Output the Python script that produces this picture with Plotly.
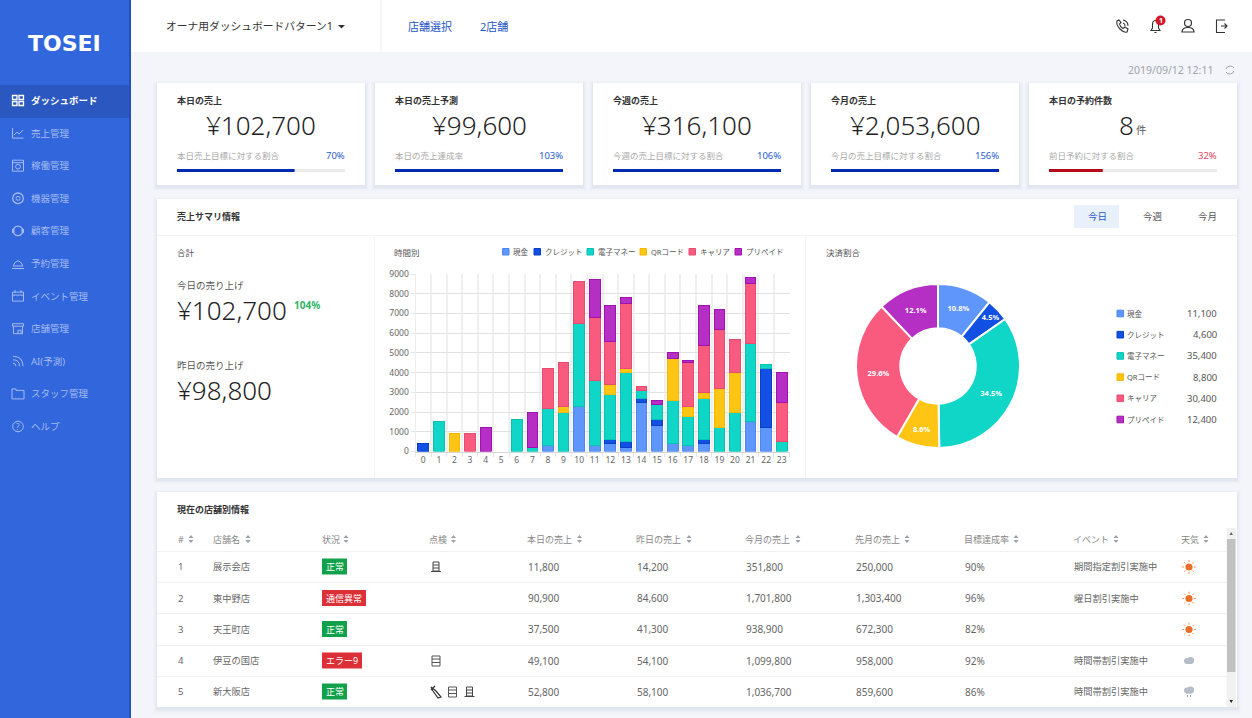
import plotly.graph_objects as go

W, H = 1252, 718
FONT = "Noto Sans, Noto Sans CJK JP"

# chart data
hours = [str(h) for h in range(24)]
pay_names = ['現金', 'クレジット', '電子マネー', 'QRコード', 'キャリア', 'プリペイド']
cash = [0, 0, 0, 0, 0, 0, 0, 0, 300, 0, 2300, 300, 400, 200, 2500, 1300, 400, 300, 400, 0, 0, 1500, 1200, 0]
credit = [400, 0, 0, 0, 0, 0, 0, 0, 0, 0, 0, 0, 200, 300, 200, 300, 0, 0, 200, 0, 0, 0, 3000, 0]
emoney = [0, 1500, 0, 0, 0, 0, 1600, 200, 1900, 2000, 4200, 3300, 2300, 3500, 400, 800, 2200, 1500, 2100, 1200, 2000, 4000, 200, 500]
qrcode = [0, 0, 900, 0, 0, 0, 0, 0, 0, 300, 0, 0, 500, 200, 0, 0, 2100, 500, 300, 2000, 2000, 0, 0, 0]
carrier = [0, 0, 0, 900, 0, 0, 0, 0, 2000, 2200, 2100, 3200, 2200, 3300, 200, 0, 0, 2200, 2400, 3000, 1700, 3000, 0, 2000]
prepaid = [0, 0, 0, 0, 1200, 0, 0, 1800, 0, 0, 0, 1900, 1800, 300, 0, 200, 300, 100, 2000, 1000, 0, 300, 0, 1500]
pay_totals = [11100, 4600, 35400, 8800, 30400, 12400]

pay_fill = ['#5f96fb', '#1150e2', '#0fd6c6', '#fec514', '#f95b7e', '#b52fc4']
pay_edge = ['#4f86ee', '#0a3fc8', '#0cc0b0', '#f5b800', '#e84a70', '#a012b0']

# kpi cards
kpi_titles = ['本日の売上', '本日の売上予測', '今週の売上', '今月の売上', '本日の予約件数']
kpi_values = ['¥102,700', '¥99,600', '¥316,100', '¥2,053,600', '8']
kpi_subs = ['本日売上目標に対する割合', '本日の売上達成率', '今週の売上目標に対する割合', '今月の売上目標に対する割合', '前日予約に対する割合']
kpi_rates = [70, 103, 106, 156, 32]

# sidebar
menu_items = ['ダッシュボード', '売上管理', '稼働管理', '機器管理', '顧客管理', '予約管理', 'イベント管理', '店舗管理', 'AI(予測)', 'スタッフ管理', 'ヘルプ']

# store table
table_headers = ['#', '店舗名', '状況', '点検', '本日の売上', '昨日の売上', '今月の売上', '先月の売上', '目標達成率', 'イベント', '天気']
store_names = ['展示会店', '東中野店', '天王町店', '伊豆の国店', '新大阪店']
store_status = ['正常', '通信異常', '正常', 'エラー9', '正常']
sales_today = ['11,800', '90,900', '37,500', '49,100', '52,800']
sales_yesterday = ['14,200', '84,600', '41,300', '54,100', '58,100']
sales_month = ['351,800', '1,701,800', '938,900', '1,099,800', '1,036,700']
sales_last_month = ['250,000', '1,303,400', '672,300', '958,000', '859,600']
target_rate = ['90%', '96%', '82%', '92%', '86%']
events = ['期間指定割引実施中', '曜日割引実施中', '', '時間帯割引実施中', '時間帯割引実施中']

shapes = []
notes = []


def rect(x0, y0, x1, y1, fill='rgba(0,0,0,0)', line=None, lw=1):
    shapes.append(dict(type='rect', xref='x', yref='y', x0=x0, y0=y0, x1=x1, y1=y1, fillcolor=fill,
                       line=dict(color=line or 'rgba(0,0,0,0)', width=lw if line else 0), layer='below'))


def oval(cx, cy, r, fill='rgba(0,0,0,0)', line=None, lw=1):
    shapes.append(dict(type='circle', xref='x', yref='y', x0=cx - r, y0=cy - r, x1=cx + r, y1=cy + r, fillcolor=fill,
                       line=dict(color=line or 'rgba(0,0,0,0)', width=lw if line else 0), layer='below'))


def path(d, line=None, lw=1, fill='rgba(0,0,0,0)'):
    shapes.append(dict(type='path', xref='x', yref='y', path=d, fillcolor=fill,
                       line=dict(color=line or 'rgba(0,0,0,0)', width=lw if line else 0), layer='below'))


def text(x, y, s, size=9.5, color='#444444', anchor='left', bold=False, weight=None, family=FONT):
    # annotations sit about a pixel inside their anchor
    nudge = {'left': -1, 'right': 1, 'center': 0}[anchor]
    notes.append(dict(xref='x', yref='y', x=x + nudge, y=y, text=f'<b>{s}</b>' if bold else s, showarrow=False,
                      xanchor=anchor, yanchor='middle', borderpad=0,
                      font=dict(family=family, size=size, color=color, weight=weight or 'normal')))


def card(x0, y0, x1, y1):
    for i, a in zip([4, 3, 2, 1], [0.012, 0.018, 0.025, 0.035]):
        rect(x0 - i, y0 - i + 2, x1 + i, y1 + i + 2, fill=f'rgba(60,80,130,{a})')
    rect(x0, y0, x1, y1, fill='#ffffff')


def sort_mark(x, y):
    path(f'M{x-2.5},{y-1} L{x},{y-4} L{x+2.5},{y-1} Z', fill='#9aa0aa')
    path(f'M{x-2.5},{y+1} L{x},{y+4} L{x+2.5},{y+1} Z', fill='#9aa0aa')


def doc_icon(cx, cy, stand=False):
    # small inspection glyphs in the table
    if stand:
        path(f'M{cx-3},{cy-5} H{cx+3} V{cy+4} H{cx-3} Z M{cx-3},{cy-2} H{cx+3} M{cx-3},{cy+1} H{cx+3} M{cx-5},{cy+4.5} H{cx+5}', line='#444444', lw=1)
    else:
        path(f'M{cx-4},{cy-5} H{cx+4} V{cy+5} H{cx-4} Z M{cx-4},{cy-2} H{cx+4} M{cx-4},{cy+1.5} H{cx+4}', line='#555555', lw=1)


def sun(cx, cy):
    oval(cx, cy, 3.6, fill='#e8702a')
    d = ''
    for dx, dy in [(0, -1), (0, 1), (-1, 0), (1, 0), (-.7, -.7), (.7, -.7), (-.7, .7), (.7, .7)]:
        d += f'M{cx+dx*5},{cy+dy*5} L{cx+dx*6.8},{cy+dy*6.8} '
    path(d, line='#ee8a4a', lw=1)


def cloud(cx, cy, rain=False):
    oval(cx - 2, cy + .5, 3, fill='#b4bcc8')
    oval(cx + 1.5, cy, 3.6, fill='#b4bcc8')
    rect(cx - 3, cy, cx + 3, cy + 3.4, fill='#b4bcc8')
    if rain:
        path(f'M{cx-1.5},{cy+5} V{cy+7} M{cx+1.5},{cy+5} V{cy+7}', line='#8ea6cc', lw=1)


def menu_icon(i, cy, c):
    x = 18
    if i == 0:
        for bx0, by0, bx1, by1 in [(-5.5, -5, -1, -1), (1, -5, 5.5, -1), (-5.5, 1, -1, 5), (1, 1, 5.5, 5)]:
            rect(x + bx0, cy + by0, x + bx1, cy + by1, line=c, lw=1.3)
    elif i == 1:
        path(f'M{x-5.5},{cy-5} V{cy+5} H{x+5.5} M{x-4},{cy+2} L{x-1},{cy-1} L{x+1},{cy+1} L{x+5},{cy-3}', line=c)
    elif i == 2:
        rect(x - 5.5, cy - 5.5, x + 5.5, cy + 5.5, line=c)
        path(f'M{x-5.5},{cy-3} H{x+5.5}', line=c)
        oval(x, cy + 1, 2.4, line=c)
    elif i == 3:
        oval(x, cy, 5.3, line=c, lw=1.3)
        oval(x, cy, 2, line=c)
    elif i == 4:
        oval(x, cy, 4.8, line=c, lw=1.2)
        rect(x - 6, cy - 2, x - 3.5, cy + 2, fill=c)
        rect(x + 3.5, cy - 2, x + 6, cy + 2, fill=c)
    elif i == 5:
        path(f'M{x-5},{cy+2.5} Q{x},{cy-8} {x+5},{cy+2.5} Z M{x-6},{cy+5} H{x+6}', line=c)
    elif i == 6:
        rect(x - 5.5, cy - 4, x + 5.5, cy + 5, line=c)
        path(f'M{x-5.5},{cy-1} H{x+5.5} M{x-3},{cy-6} V{cy-3} M{x+3},{cy-6} V{cy-3}', line=c)
    elif i == 7:
        path(f'M{x-5.5},{cy-5} H{x+5.5} V{cy-2.5} H{x-5.5} Z M{x-4.5},{cy-2.5} V{cy+5} H{x+4.5} V{cy-2.5} M{x},{cy+5} V{cy+1.5} H{x+3} V{cy+5}', line=c)
    elif i == 8:
        path(f'M{x-5},{cy-5} Q{x+5},{cy-5} {x+5},{cy+5} M{x-5},{cy-1.5} Q{x+1.5},{cy-1.5} {x+1.5},{cy+5} M{x-5},{cy+2} Q{x-2},{cy+2} {x-2},{cy+5}', line=c)
    elif i == 9:
        path(f'M{x-6},{cy-5} H{x-2} V{cy-3.5} H{x+6} V{cy+5} H{x-6} Z', line=c)
    else:
        oval(x, cy, 5.3, line=c)
        text(x, cy, '?', 8, c, 'center')


# page background and frame
rect(0, 0, W, H, fill='#f3f5fa')
rect(131, 0, W, 52, fill='#ffffff')
rect(0, 0, 130, H, fill='#3166dc')
rect(129, 0, 131, H, fill='#2250bd')
rect(0, 85, 129, 118, fill='#2b57c0')
path('M381,0 V52', line='#eeeeee')

text(64.5, 43, '<b>TOSEI</b>', 22, '#ffffff', 'center', family='DejaVu Sans')
for i, item in enumerate(menu_items):
    cy = 100.5 + i * 32.6
    active = i == 0
    menu_icon(i, cy, '#ffffff' if active else '#a4bcf2')
    text(31, cy, item, 9.5, '#ffffff' if active else '#a4bcf2', bold=active)

# top bar
text(166, 26, 'オーナ用ダッシュボードパターン1', 10.75, '#333333')
path('M338,25 H345 L341.5,28.5 Z', fill='#333333')
text(408, 26, '店舗選択', 11, '#1f56c8')
text(480, 26, '2店舗', 11, '#1f56c8')
path('M1117,21 Q1116,25 1120,29 Q1124,33 1127,32 L1128,29 L1125,27 L1123,28.5 Q1120,27 1119.5,24 L1121,22.5 L1119,20 Z M1123,20 Q1128,21 1128,26 M1123,23 Q1125,23.5 1125,26', line='#333333', lw=1.1)
path('M1151,30.5 H1160 L1158.5,28 V24.5 Q1158.5,20.5 1155.5,20.5 Q1152.5,20.5 1152.5,24.5 V28 Z M1154.5,32.5 H1156.5', line='#333333', lw=1.1)
oval(1160.5, 20.5, 5, fill='#d0182c')
text(1160.5, 20.5, '1', 7, '#ffffff', 'center', bold=True)
oval(1188, 23, 3.5, line='#333333', lw=1.2)
path('M1182,32 Q1182,27.5 1188,27.5 Q1194,27.5 1194,32 Z', line='#333333', lw=1.2)
path('M1225,20 H1216.5 V32.5 H1225 M1221,26 H1227 M1224.5,23.5 L1227,26 L1224.5,28.5', line='#333333', lw=1.1)

text(1213, 70, '2019/09/12 12:11', 10.5, '#a0a4ac', 'right')
path('M1226,69 Q1227,66 1230,66 Q1233,66 1234,68 M1234,71 Q1233,74 1230,74 Q1227,74 1226,72', line='#a0a4ac', lw=1)

# kpi cards
for i, title in enumerate(kpi_titles):
    x0 = 157 + i * 218
    card(x0, 83, x0 + 208, 185)
    text(x0 + 20, 100, title, 9, '#333333', bold=True)
    if kpi_values[i] == '8':
        text(x0 + 97, 125, kpi_values[i], 26, '#222222', 'center', weight=300)
        text(x0 + 107, 130, '件', 10.5, '#555555')
    else:
        text(x0 + 104, 125, kpi_values[i], 26, '#222222', 'center', weight=300)
    text(x0 + 20, 155, kpi_subs[i], 8.5, '#a8a8a8')
    low = kpi_rates[i] < 50
    text(x0 + 188, 155, f'{kpi_rates[i]}%', 9.5, '#e0475c' if low else '#2a5bd0', 'right')
    rect(x0 + 20, 169, x0 + 188, 172, fill='#ebebeb')
    rect(x0 + 20, 169, x0 + 20 + 168 * min(kpi_rates[i], 100) / 100, 172, fill='#b5091c' if low else '#0028b0')

# summary card
card(157, 199, 1237, 478)
path('M157,235.5 H1237 M374.5,235 V478 M805.5,235 V478', line='#f3f3f5')
text(177, 216, '売上サマリ情報', 9, '#333333', bold=True)
rect(1074, 205, 1119, 228, fill='#e8f0fb')
text(1097, 216, '今日', 9.5, '#1f56c8', 'center')
text(1153, 216, '今週', 9.5, '#555555', 'center')
text(1207, 216, '今月', 9.5, '#555555', 'center')
text(177, 252, '合計', 8.5, '#555555')
text(177, 285.5, '今日の売り上げ', 9.5, '#555555')
text(177, 310, '¥102,700', 26, '#222222', weight=300)
text(294, 305, '104%', 10, '#2db567', bold=True)
text(177, 365, '昨日の売り上げ', 9.5, '#555555')
text(177, 389.5, '¥98,800', 26, '#222222', weight=300)

# chart headers and legends
text(394, 252, '時間別', 8.5, '#555555')
text(826, 252, '決済割合', 8.5, '#555555')
swatch_x = [502.5, 534, 587, 640, 689, 735]
for name, sx, f, e in zip(pay_names, swatch_x, pay_fill, pay_edge):
    rect(sx, 248.5, sx + 6.5, 255, fill=f, line=e)
    text(sx + 10.5, 252, name, 7.5, '#555555')
for i, (name, total) in enumerate(zip(pay_names, pay_totals)):
    cy = 313.5 + i * 21.2
    rect(1117, cy - 3.3, 1123.5, cy + 3.3, fill=pay_fill[i], line=pay_edge[i])
    text(1127, cy, name, 7.5, '#555555')
    text(1217, cy, f'{total:,}', 9.5, '#555555', 'right')

# store table
card(157, 492, 1237, 707)
text(177, 509, '現在の店舗別情報', 9, '#333333', bold=True)
col_x = [178, 213, 322, 429, 527, 636, 745, 855, 964, 1073, 1181]
sort_x = [191, 248, 346, 453.5, 579.5, 689, 798, 907, 1016, 1116, 1206]
for head, cx, sx in zip(table_headers, col_x, sort_x):
    text(cx, 539, head, 9, '#888888')
    sort_mark(sx, 539)
path('M157,551.5 H1226 M157,582.5 H1226 M157,613.5 H1226 M157,645.5 H1226 M157,676.5 H1226', line='#f1f1f3')
row_y = [566.5, 598, 629, 660.5, 691.5]
badge_w = [25, 44, 25, 40, 25]
for i, cy in enumerate(row_y):
    text(178, cy, str(i + 1), 9.5, '#666666')
    text(213, cy, store_names[i], 9.25, '#666666')
    red = store_status[i] != '正常'
    rect(322, cy - 8, 322 + badge_w[i], cy + 8, fill='#dc3038' if red else '#12a14b')
    text(322 + badge_w[i] / 2, cy, store_status[i], 9, '#ffffff', 'center')
    text(528, cy, sales_today[i], 10, '#666666')
    text(637, cy, sales_yesterday[i], 10, '#666666')
    text(746, cy, sales_month[i], 10, '#666666')
    text(855.5, cy, sales_last_month[i], 10, '#666666')
    text(965, cy, target_rate[i], 10, '#666666')
    text(1074, cy, events[i], 9.25, '#666666')

doc_icon(436, 567, stand=True)
doc_icon(436, 661)
path('M431,687 L436,691 L441,697 L438,698 L433,691 Z M431,690 L435,686', line='#333333', lw=1.2)
doc_icon(452.5, 692)
doc_icon(469.5, 692, stand=True)
sun(1189, 567)
sun(1189, 598.5)
sun(1189, 629.5)
cloud(1189, 660.5)
cloud(1189, 690, rain=True)

rect(1226.5, 528, 1236, 707, fill='#f1f1f1')
rect(1227, 539, 1235.5, 672, fill='#c1c1c1')
path('M1229.5,535 L1231.2,532 L1233,535 Z', fill='#666666')
path('M1229.5,700 L1231.2,703 L1233,700 Z', fill='#222222')

fig = go.Figure()

series = [cash, credit, emoney, qrcode, carrier, prepaid]
for name, vals, f, e in zip(pay_names, series, pay_fill, pay_edge):
    # empty segments would still draw their outline
    fig.add_trace(go.Bar(x=hours, y=[v or None for v in vals], name=name, xaxis='x2', yaxis='y2',
                         marker=dict(color=f, line=dict(color=e, width=1))))

fig.add_trace(go.Pie(labels=pay_names, values=pay_totals, hole=0.46, sort=False, direction='clockwise', rotation=0,
                     marker=dict(colors=pay_fill, line=dict(color='#ffffff', width=2)),
                     texttemplate='<b>%{percent:.1%}</b>', textposition='inside', insidetextorientation='horizontal',
                     textfont=dict(family=FONT, size=7.5, color='#ffffff'),
                     domain=dict(x=[856 / W, 1020 / W], y=[1 - 448 / H, 1 - 284 / H])))

fig.update_layout(
    width=W, height=H,
    margin=dict(l=0, r=0, t=0, b=0),
    paper_bgcolor='#f3f5fa',
    plot_bgcolor='rgba(0,0,0,0)',
    showlegend=False,
    barmode='stack',
    bargap=0.31,
    font=dict(family=FONT, color='#666666'),
    xaxis=dict(domain=[0, 1], range=[0, W], visible=False, fixedrange=True, automargin=False),
    yaxis=dict(domain=[0, 1], range=[H, 0], visible=False, fixedrange=True, automargin=False),
    xaxis2=dict(domain=[415.5 / W, 789.5 / W], anchor='y2', type='category', tickson='boundaries', automargin=False,
                ticks='outside', ticklen=4, tickcolor='#e6e6e6', gridcolor='#f0f0f0', gridwidth=2, showgrid=True, tickangle=0,
                linecolor='#d8d8d8', showline=True, tickfont=dict(size=8.5, color='#666666'), fixedrange=True),
    yaxis2=dict(domain=[1 - 451.5 / H, 1 - 274 / H], anchor='x2', range=[0, 9000], dtick=1000, automargin=False,
                ticks='outside', ticklen=4, tickcolor='#e6e6e6', gridcolor='#e2e2e2', showline=True, linecolor='#ececec',
                zeroline=False, tickfont=dict(size=8.5, color='#666666'), fixedrange=True),
    shapes=shapes,
    annotations=notes,
)

fig.write_html("out.html", config=dict(displayModeBar=False),
               post_script="document.body.style.margin='0';document.body.style.overflow='hidden';")
